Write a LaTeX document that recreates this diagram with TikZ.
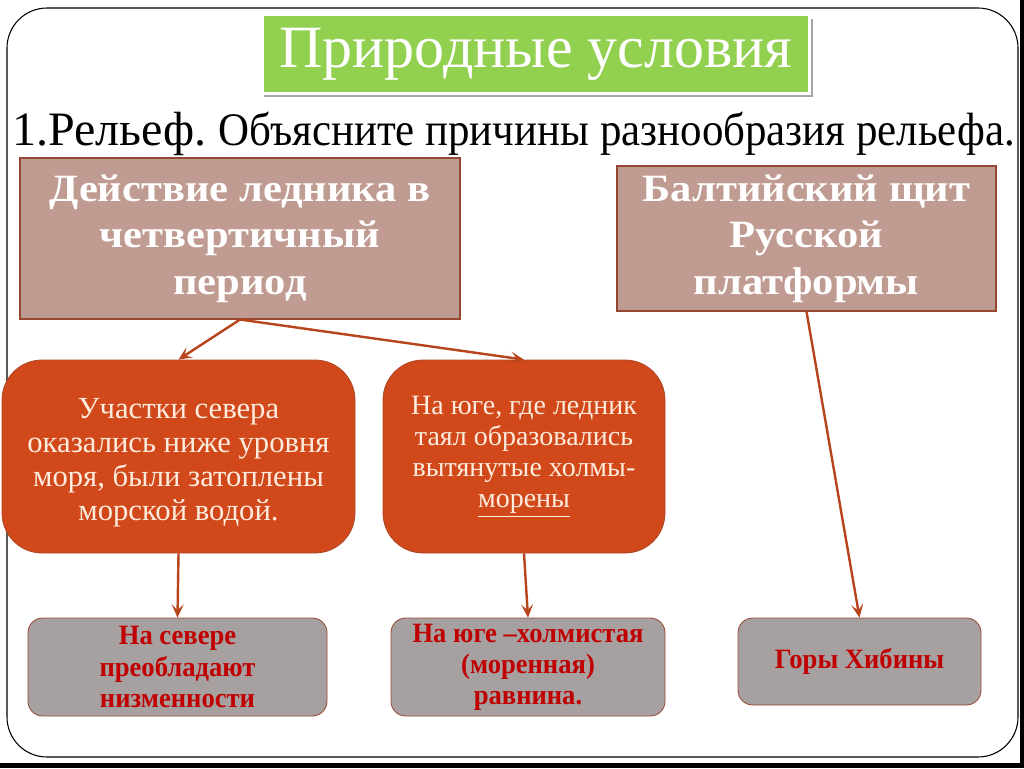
\documentclass[tikz,border=0pt]{standalone}
\usepackage{fontspec}
\setmainfont{Liberation Serif}
\newfontfamily\qfont[FakeStretch=0.92]{Liberation Serif}
\newfontfamily\wideboldfont[FakeStretch=1.1]{Liberation Serif}
\newfontfamily\grayfont[FakeStretch=0.95]{Liberation Serif}
\usetikzlibrary{arrows.meta}
\definecolor{titlegreen}{RGB}{146,208,80}
\definecolor{boxbrown}{RGB}{192,155,146}
\definecolor{edgebrown}{RGB}{150,70,50}
\definecolor{boxorange}{RGB}{209,73,26}
\definecolor{cream}{RGB}{253,236,222}
\definecolor{boxgray}{RGB}{166,160,160}
\definecolor{textred}{RGB}{192,0,0}
\definecolor{arrowcol}{RGB}{184,68,28}
\tikzset{
  headbox/.style={draw=edgebrown, line width=0.8pt, fill=boxbrown, text=white, align=center,
    font=\wideboldfont\fontsize{29}{35}\selectfont\bfseries, inner sep=0pt},
  orangebox/.style={draw=edgebrown!60!boxorange, line width=0.6pt, fill=boxorange, text=cream, align=center,
    rounded corners=30pt, inner sep=0pt},
  graybox/.style={draw=edgebrown, line width=0.6pt, fill=boxgray, text=textred, align=center,
    rounded corners=11pt, inner sep=0pt, font=\grayfont\fontsize{21}{23.3}\selectfont\bfseries},
  conn/.style={draw=arrowcol, line width=1.8pt, -{Stealth[length=10pt,width=9pt,inset=4.5pt]}}
}
\begin{document}
\begin{tikzpicture}[x=0.75pt,y=-0.75pt]
\useasboundingbox (0,0) rectangle (1024,768);
% background
\fill[black] (0,0) rectangle (1024,768);
\fill[white] (0,0) rectangle (1020,763);
\draw[black, line width=0.8pt, rounded corners=30pt] (7,8) rectangle (1018,757);
% title
\fill[black!35] (264,19) rectangle (813,97);
\fill[white] (259,12) rectangle (811,95);
\node[fill=titlegreen, minimum width=408pt, minimum height=57pt, inner sep=0pt,
  text=white, font=\fontsize{45}{48}\selectfont] (title) at (536,54) {Природные условия};
% subtitle line
\node[anchor=base west, inner sep=0pt, font=\fontsize{36}{40}\selectfont] (relief) at (12,145) {1.Рельеф.};
\node[anchor=base west, inner sep=0pt, font=\qfont\fontsize{35}{40}\selectfont] (question) at (218,145) {Объясните причины разнообразия рельефа.};
% header boxes
\node[headbox, minimum width=330pt, minimum height=120.75pt] (glacier) at (240,238.5)
  {Действие ледника в\\четвертичный\\период};
\node[headbox, minimum width=284.25pt, minimum height=108.75pt] (shield) at (806.5,238.5)
  {Балтийский щит\\Русской\\платформы};
% orange boxes
\node[orangebox, minimum width=264.75pt, minimum height=144.75pt,
  font=\fontsize{23}{25.5}\selectfont] (north) at (178.5,456.5)
  {\rule{0pt}{24pt}Участки севера\\оказались ниже уровня\\моря, были затоплены\\морской водой.};
\node[orangebox, minimum width=211.5pt, minimum height=144.75pt,
  font=\fontsize{21}{23.3}\selectfont] (south) at (524,456.5)
  {На юге, где ледник\\таял образовались\\вытянутые холмы-\\\underline{морены}};
% gray boxes
\node[graybox, minimum width=224.25pt, minimum height=73.5pt] (lowland) at (177.5,667)
  {На севере\\преобладают\\низменности};
\node[graybox, minimum width=205.5pt, minimum height=73.5pt] (plain) at (528,667)
  {На юге –холмистая\\(моренная)\\равнина.};
\node[graybox, minimum width=182.25pt, minimum height=65.25pt] (khibiny) at (859.5,661.5)
  {Горы Хибины};
% connectors
\draw[conn] (glacier.south) -- (north.north);
\draw[conn] (glacier.south) -- (south.north);
\draw[conn] (north.south) -- (lowland.north);
\draw[conn] (south.south) -- (plain.north);
\draw[conn] (shield.south) -- (khibiny.north);
\end{tikzpicture}
\end{document}
